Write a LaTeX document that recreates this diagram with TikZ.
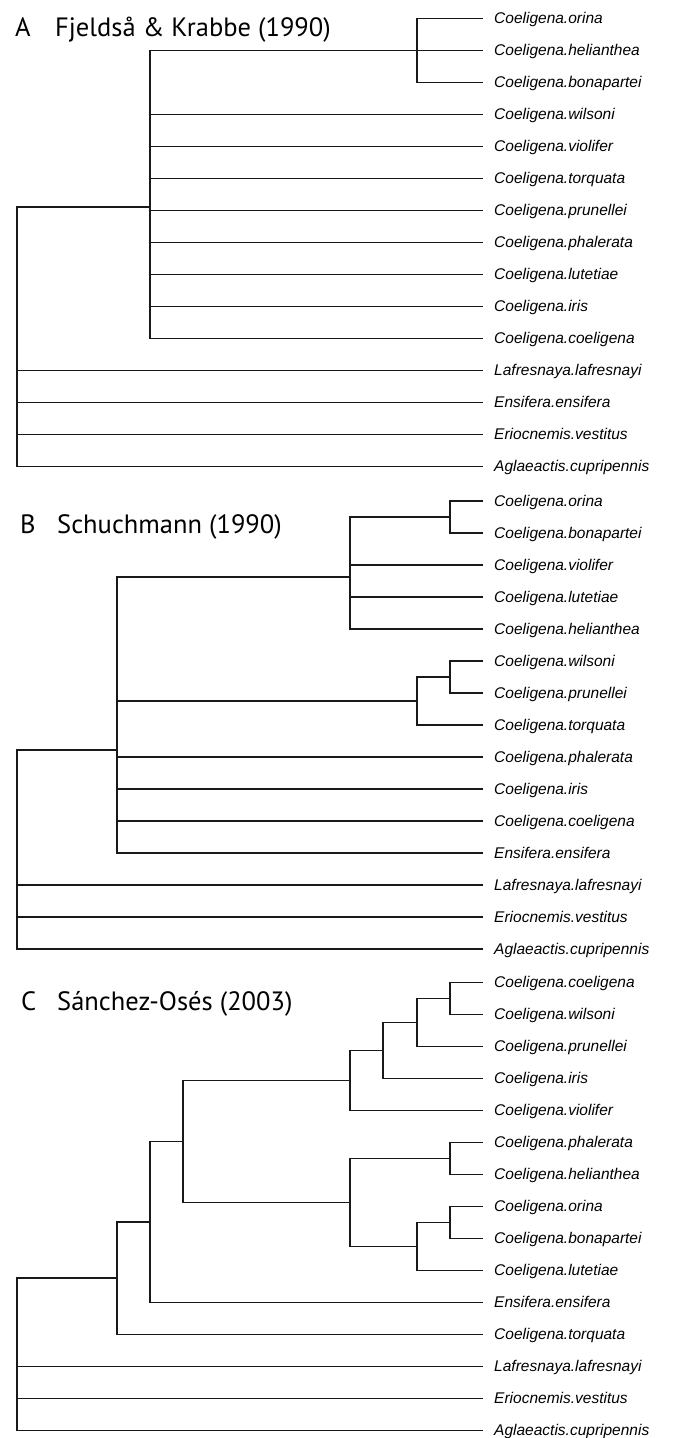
\documentclass[tikz,border=0pt]{standalone}
\usepackage{fontspec}
\setmainfont{Liberation Sans}
\newfontfamily\headfont{PT Sans}

\tikzset{
  taxon/.style={anchor=base west, inner sep=0pt, xshift=11pt, yshift=-5.3pt,
    font=\fontsize{15.5}{16}\selectfont\itshape},
  paneltag/.style={anchor=base west, inner sep=0pt,
    font=\headfont\fontsize{26.5}{27}\selectfont},
  branch/.style={line width=1.7pt, line join=miter, black!90}
}

\begin{document}
\begin{tikzpicture}[x=1pt,y=-1pt]
\useasboundingbox (0,0) rectangle (673,1438);

% A
\node[paneltag] (tagA) at (15,36) {A};
\node[paneltag] (refA) at (55,36) {Fjeldså \& Krabbe (1990)};
\coordinate (a1) at (483,18.5);
\coordinate (a2) at (483,50.5);
\coordinate (a3) at (483,82.5);
\coordinate (a4) at (483,114.5);
\coordinate (a5) at (483,146.5);
\coordinate (a6) at (483,178.5);
\coordinate (a7) at (483,210.5);
\coordinate (a8) at (483,242.5);
\coordinate (a9) at (483,274.5);
\coordinate (a10) at (483,306.5);
\coordinate (a11) at (483,338.5);
\coordinate (a12) at (483,370.5);
\coordinate (a13) at (483,402.5);
\coordinate (a14) at (483,434.5);
\coordinate (a15) at (483,466.5);
\node[taxon] (ta1) at (a1) {Coeligena.orina};
\node[taxon] (ta2) at (a2) {Coeligena.helianthea};
\node[taxon] (ta3) at (a3) {Coeligena.bonapartei};
\node[taxon] (ta4) at (a4) {Coeligena.wilsoni};
\node[taxon] (ta5) at (a5) {Coeligena.violifer};
\node[taxon] (ta6) at (a6) {Coeligena.torquata};
\node[taxon] (ta7) at (a7) {Coeligena.prunellei};
\node[taxon] (ta8) at (a8) {Coeligena.phalerata};
\node[taxon] (ta9) at (a9) {Coeligena.lutetiae};
\node[taxon] (ta10) at (a10) {Coeligena.iris};
\node[taxon] (ta11) at (a11) {Coeligena.coeligena};
\node[taxon] (ta12) at (a12) {Lafresnaya.lafresnayi};
\node[taxon] (ta13) at (a13) {Ensifera.ensifera};
\node[taxon] (ta14) at (a14) {Eriocnemis.vestitus};
\node[taxon] (ta15) at (a15) {Aglaeactis.cupripennis};
\coordinate (na1) at (17,376.2);
\coordinate (na2) at (150,206.9);
\coordinate (na3) at (417,50.5);
\draw[branch] (na1) |- (na2) (na1) |- (a12) (na1) |- (a13) (na1) |- (a14) (na1) |- (a15);
\draw[branch] (na2) |- (na3) (na2) |- (a4) (na2) |- (a5) (na2) |- (a6) (na2) |- (a7)
  (na2) |- (a8) (na2) |- (a9) (na2) |- (a10) (na2) |- (a11);
\draw[branch] (na3) |- (a1) (na3) |- (a2) (na3) |- (a3);

% B
\node[paneltag] (tagB) at (20,533) {B};
\node[paneltag] (refB) at (57,533) {Schuchmann (1990)};
\coordinate (b1) at (483,501);
\coordinate (b2) at (483,533);
\coordinate (b3) at (483,565);
\coordinate (b4) at (483,597);
\coordinate (b5) at (483,629);
\coordinate (b6) at (483,661);
\coordinate (b7) at (483,693);
\coordinate (b8) at (483,725);
\coordinate (b9) at (483,757);
\coordinate (b10) at (483,789);
\coordinate (b11) at (483,821);
\coordinate (b12) at (483,853);
\coordinate (b13) at (483,885);
\coordinate (b14) at (483,917);
\coordinate (b15) at (483,949);
\node[taxon] (tb1) at (b1) {Coeligena.orina};
\node[taxon] (tb2) at (b2) {Coeligena.bonapartei};
\node[taxon] (tb3) at (b3) {Coeligena.violifer};
\node[taxon] (tb4) at (b4) {Coeligena.lutetiae};
\node[taxon] (tb5) at (b5) {Coeligena.helianthea};
\node[taxon] (tb6) at (b6) {Coeligena.wilsoni};
\node[taxon] (tb7) at (b7) {Coeligena.prunellei};
\node[taxon] (tb8) at (b8) {Coeligena.torquata};
\node[taxon] (tb9) at (b9) {Coeligena.phalerata};
\node[taxon] (tb10) at (b10) {Coeligena.iris};
\node[taxon] (tb11) at (b11) {Coeligena.coeligena};
\node[taxon] (tb12) at (b12) {Ensifera.ensifera};
\node[taxon] (tb13) at (b13) {Lafresnaya.lafresnayi};
\node[taxon] (tb14) at (b14) {Eriocnemis.vestitus};
\node[taxon] (tb15) at (b15) {Aglaeactis.cupripennis};
\coordinate (nb1) at (17,875.2);
\coordinate (nb2) at (117,749.7);
\coordinate (nb3) at (350,577);
\coordinate (nb4) at (450,517);
\coordinate (nb5) at (417,701);
\coordinate (nb6) at (450,677);
\draw[branch] (nb1) |- (nb2) (nb1) |- (b13) (nb1) |- (b14) (nb1) |- (b15);
\draw[branch] (nb2) |- (nb3) (nb2) |- (nb5) (nb2) |- (b9) (nb2) |- (b10)
  (nb2) |- (b11) (nb2) |- (b12);
\draw[branch] (nb3) |- (nb4) (nb3) |- (b3) (nb3) |- (b4) (nb3) |- (b5);
\draw[branch] (nb4) |- (b1) (nb4) |- (b2);
\draw[branch] (nb5) |- (nb6) (nb5) |- (b8);
\draw[branch] (nb6) |- (b6) (nb6) |- (b7);

% C
\node[paneltag] (tagC) at (21,1010) {C};
\node[paneltag] (refC) at (57,1010) {Sánchez-Osés (2003)};
\coordinate (c1) at (483,982.5);
\coordinate (c2) at (483,1014.5);
\coordinate (c3) at (483,1046.5);
\coordinate (c4) at (483,1078.5);
\coordinate (c5) at (483,1110.5);
\coordinate (c6) at (483,1142.5);
\coordinate (c7) at (483,1174.5);
\coordinate (c8) at (483,1206.5);
\coordinate (c9) at (483,1238.5);
\coordinate (c10) at (483,1270.5);
\coordinate (c11) at (483,1302.5);
\coordinate (c12) at (483,1334.5);
\coordinate (c13) at (483,1366.5);
\coordinate (c14) at (483,1398.5);
\coordinate (c15) at (483,1430.5);
\node[taxon] (tc1) at (c1) {Coeligena.coeligena};
\node[taxon] (tc2) at (c2) {Coeligena.wilsoni};
\node[taxon] (tc3) at (c3) {Coeligena.prunellei};
\node[taxon] (tc4) at (c4) {Coeligena.iris};
\node[taxon] (tc5) at (c5) {Coeligena.violifer};
\node[taxon] (tc6) at (c6) {Coeligena.phalerata};
\node[taxon] (tc7) at (c7) {Coeligena.helianthea};
\node[taxon] (tc8) at (c8) {Coeligena.orina};
\node[taxon] (tc9) at (c9) {Coeligena.bonapartei};
\node[taxon] (tc10) at (c10) {Coeligena.lutetiae};
\node[taxon] (tc11) at (c11) {Ensifera.ensifera};
\node[taxon] (tc12) at (c12) {Coeligena.torquata};
\node[taxon] (tc13) at (c13) {Lafresnaya.lafresnayi};
\node[taxon] (tc14) at (c14) {Eriocnemis.vestitus};
\node[taxon] (tc15) at (c15) {Aglaeactis.cupripennis};
\coordinate (nc1) at (17,1368.4);
\coordinate (nc2) at (117,1278.25);
\coordinate (nc3) at (150,1222);
\coordinate (nc4) at (183,1141.5);
\coordinate (nc5) at (350,1080.5);
\coordinate (nc6) at (383,1050.5);
\coordinate (nc7) at (417,1022.5);
\coordinate (nc8) at (450,998.5);
\coordinate (nc9) at (350,1202.5);
\coordinate (nc10) at (450,1158.5);
\coordinate (nc11) at (417,1246.5);
\coordinate (nc12) at (450,1222.5);
\draw[branch] (nc1) |- (nc2) (nc1) |- (c13) (nc1) |- (c14) (nc1) |- (c15);
\draw[branch] (nc2) |- (nc3) (nc2) |- (c12);
\draw[branch] (nc3) |- (nc4) (nc3) |- (c11);
\draw[branch] (nc4) |- (nc5) (nc4) |- (nc9);
\draw[branch] (nc5) |- (nc6) (nc5) |- (c5);
\draw[branch] (nc6) |- (nc7) (nc6) |- (c4);
\draw[branch] (nc7) |- (nc8) (nc7) |- (c3);
\draw[branch] (nc8) |- (c1) (nc8) |- (c2);
\draw[branch] (nc9) |- (nc10) (nc9) |- (nc11);
\draw[branch] (nc10) |- (c6) (nc10) |- (c7);
\draw[branch] (nc11) |- (nc12) (nc11) |- (c10);
\draw[branch] (nc12) |- (c8) (nc12) |- (c9);
\end{tikzpicture}
\end{document}
